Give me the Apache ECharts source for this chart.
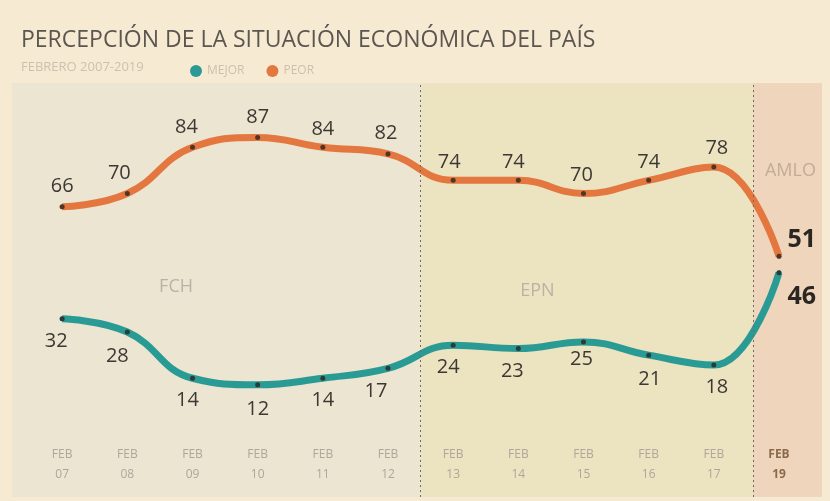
<!DOCTYPE html>
<html>
<head>
<meta charset="utf-8">
<script src="https://cdn.jsdelivr.net/npm/echarts@6/dist/echarts.min.js"></script>
<style>
  html, body { margin: 0; padding: 0; background: #f6ebd2; }
  #main { width: 830px; height: 501px; }
</style>
</head>
<body>
<div id="main"></div>
<script>
// tick labels (FEB of each year; 2018 is missing in the source)
var years = ['07', '08', '09', '10', '11', '12', '13', '14', '15', '16', '17', '19'];
var mejor = [32, 28, 14, 12, 14, 17, 24, 23, 25, 21, 18, 46];
var peor = [66, 70, 84, 87, 84, 82, 74, 74, 70, 74, 78, 51];
// government periods, in x index units
var periodNames = ['FCH', 'EPN', 'AMLO'];
var periodFrom = [-0.77, 5.5, 10.6];
var periodTo = [5.5, 10.6, 11.66];

var domDiv = document.getElementById('main');
var chart = echarts.init(domDiv);

var FONT = 'Open Sans';
var last = years.length - 1;

function pts(arr) {
    return arr.map(function (v, i) { return [i, v]; });
}

// label offsets, per point (roughly as in the print)
var peorOffsets = [[0, 0], [-8, 0], [-6, 0], [0, 0], [0, 2], [-2, 0], [-4, 2], [-5, 2], [-2, 2], [0, 2], [3, 2]];
var mejorOffsets = [[-6, 2], [-10, 4], [-5, 2], [0, 4], [0, 2], [-12, 2], [-5, 2], [-6, 2], [-2, -3], [1, 4], [3, 2]];

function labelled(arr, offsets, pos, bigOffset) {
    return arr.map(function (v, i) {
        if (i === last) {
            return {
                value: [i, v],
                label: {
                    position: 'right', offset: bigOffset,
                    fontSize: 25, fontWeight: 'bold', color: '#2b2622'
                }
            };
        }
        return { value: [i, v], label: { position: pos, offset: offsets[i] } };
    });
}

var areaStyles = ['#ebe5d1', '#ece3c1', '#efd5bb'];
var labelPos = [['36%', '47%'], ['30%', '48%'], [12, '19%']];
var markAreaData = periodNames.map(function (n, i) {
    return [
        {
            name: n, xAxis: periodFrom[i],
            itemStyle: { color: areaStyles[i] },
            label: {
                show: true, position: labelPos[i], fontFamily: FONT,
                fontSize: 18, color: i === 2 ? '#c2ab98' : '#b9b3a6'
            }
        },
        { xAxis: periodTo[i] }
    ];
});

var tickIdx = years.map(function (y, i) { return i; });

var option = {
    backgroundColor: '#f6ebd2',
    animation: false,
    title: {
        text: 'PERCEPCIÓN DE LA SITUACIÓN ECONÓMICA DEL PAÍS',
        subtext: 'FEBRERO 2007-2019',
        left: 16, top: 24, itemGap: 9,
        textStyle: { fontFamily: FONT, fontSize: 23, fontWeight: 'normal', color: '#5b5650' },
        subtextStyle: { fontFamily: FONT, fontSize: 13, color: '#cbc1af' }
    },
    legend: {
        left: 185, top: 60,
        icon: 'circle', itemWidth: 12, itemHeight: 12, itemGap: 22,
        textStyle: { fontFamily: FONT, fontSize: 12, color: '#cdbfae' },
        data: ['MEJOR', 'PEOR']
    },
    grid: { left: 12, right: 8, top: 83, bottom: 4 },
    xAxis: {
        type: 'value', min: -0.77, max: 11.66, z: 10,
        splitLine: { show: false },
        axisLine: { show: false }, axisTick: { show: false },
        axisLabel: {
            inside: true, margin: 12,
            customValues: tickIdx,
            fontFamily: FONT, fontSize: 12, lineHeight: 20, color: '#aea79b',
            formatter: function (v) {
                var i = Math.round(v);
                return i === last ? '{b|FEB\n' + years[i] + '}' : 'FEB\n' + years[i];
            },
            rich: { b: { fontFamily: FONT, fontSize: 12, lineHeight: 20, fontWeight: 'bold', color: '#8a6a4c' } }
        }
    },
    yAxis: {
        type: 'value', min: -22, max: 103.5,
        show: false, splitLine: { show: false }
    },
    series: [
        {
            name: 'PEOR', type: 'line', smooth: 0.45,
            data: labelled(peor, peorOffsets, 'top', [-2, -16]),
            z: 3,
            lineStyle: { color: '#e4773f', width: 7 },
            itemStyle: { color: '#e4773f' },
            symbol: 'circle', symbolSize: 5,
            label: { show: true, distance: 8, fontFamily: FONT, fontSize: 20, color: '#3d3834' },
            emphasis: { disabled: true },
            markArea: { silent: true, data: markAreaData },
            markLine: {
                silent: true, symbol: 'none',
                lineStyle: { type: [2, 3], color: '#6f6a62', width: 1 },
                label: { show: false },
                data: [{ xAxis: periodFrom[1] }, { xAxis: periodFrom[2] }]
            }
        },
        {
            name: 'MEJOR', type: 'line', smooth: 0.45,
            data: labelled(mejor, mejorOffsets, 'bottom', [-2, 24]),
            z: 3,
            lineStyle: { color: '#2a9a95', width: 7 },
            itemStyle: { color: '#2a9a95' },
            symbol: 'circle', symbolSize: 5,
            label: { show: true, distance: 8, fontFamily: FONT, fontSize: 20, color: '#3d3834' },
            emphasis: { disabled: true }
        },
        // small black dots on top of the lines
        {
            type: 'scatter', data: pts(peor), symbolSize: 5, z: 5,
            itemStyle: { color: '#2a2420' }, silent: true
        },
        {
            type: 'scatter', data: pts(mejor), symbolSize: 5, z: 5,
            itemStyle: { color: '#2a2420' }, silent: true
        }
    ]
};
chart.setOption(option);
window.onresize = function () {
    chart.resize();
};
</script>
</body>
</html>
